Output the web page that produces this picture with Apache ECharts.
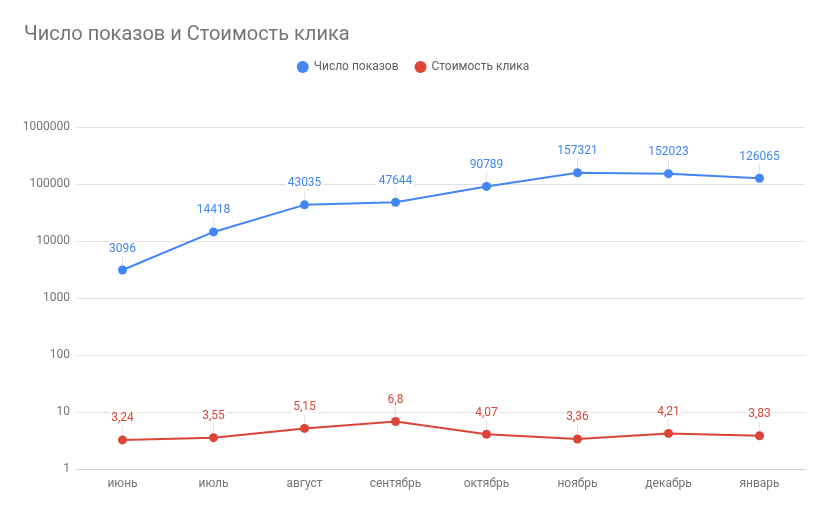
<!DOCTYPE html>
<html>
<head>
<meta charset="utf-8">
<script src="https://cdn.jsdelivr.net/npm/echarts@6/dist/echarts.min.js"></script>
<style>
  html, body { margin: 0; padding: 0; background: #fff; }
  #main { width: 826px; height: 509px; }
</style>
</head>
<body>
<div id="main"></div>
<script>
// категории по оси X
const months = ["июнь", "июль", "август", "сентябрь", "октябрь", "ноябрь", "декабрь", "январь"];
// Число показов
const impressions = [3096, 14418, 43035, 47644, 90789, 157321, 152023, 126065];
// Стоимость клика
const clickCost = [3.24, 3.55, 5.15, 6.8, 4.07, 3.36, 4.21, 3.83];

const blue = "#4285f4";
const red = "#db4437";
const font = "Roboto";

// метки точек с выноской
const makeLabel = (color, fmt) => ({
  show: true,
  position: "top",
  distance: 6,
  color: color,
  fontFamily: font,
  fontSize: 12,
  backgroundColor: "#fff",
  padding: [1, 2],
  formatter: fmt,
});

var myChart = echarts.init(document.getElementById("main"));

var option = {
  animation: false,
  textStyle: { fontFamily: font },
  title: {
    text: "Число показов и Стоимость клика",
    left: 19,
    top: 20,
    textStyle: { fontFamily: font, fontSize: 20, fontWeight: "normal", color: "#757575" },
  },
  legend: {
    top: 56,
    left: "center",
    icon: "circle",
    itemWidth: 12,
    itemHeight: 12,
    itemGap: 16,
    textStyle: { fontFamily: font, fontSize: 12, color: "#5f5f5f" },
    data: ["Число показов", "Стоимость клика"],
  },
  grid: { left: 77, right: 21, top: 127, bottom: 40, containLabel: false },
  xAxis: {
    type: "category",
    data: months,
    boundaryGap: true,
    axisLine: { show: true, lineStyle: { color: "#cccccc" } },
    axisTick: { show: false },
    axisLabel: { color: "#757575", fontSize: 12, fontFamily: font, margin: 9 },
  },
  yAxis: {
    type: "log",
    logBase: 10,
    min: 1,
    max: 1000000,
    axisLine: { show: false },
    axisTick: { show: false },
    axisLabel: {
      color: "#757575",
      fontSize: 12,
      fontFamily: font,
      margin: 7,
      formatter: (v) => String(Math.round(v)),
    },
    splitLine: { lineStyle: { color: "#e0e0e0", width: 1 } },
  },
  series: [
    {
      name: "Число показов",
      type: "line",
      data: impressions,
      color: blue,
      symbol: "circle",
      symbolSize: 9,
      lineStyle: { width: 2, color: blue },
      label: makeLabel(blue, (p) => String(p.value)),
      labelLayout: { dy: -4 },
      labelLine: { show: true, lineStyle: { color: "#e3e3e3", width: 1 } },
    },
    {
      name: "Стоимость клика",
      type: "line",
      data: clickCost,
      color: red,
      symbol: "circle",
      symbolSize: 9,
      lineStyle: { width: 2, color: red },
      label: makeLabel(red, (p) => String(p.value).replace(".", ",")),
      labelLayout: { dy: -4 },
      labelLine: { show: true, lineStyle: { color: "#e3e3e3", width: 1 } },
    },
  ],
};

myChart.setOption(option);
</script>
</body>
</html>
